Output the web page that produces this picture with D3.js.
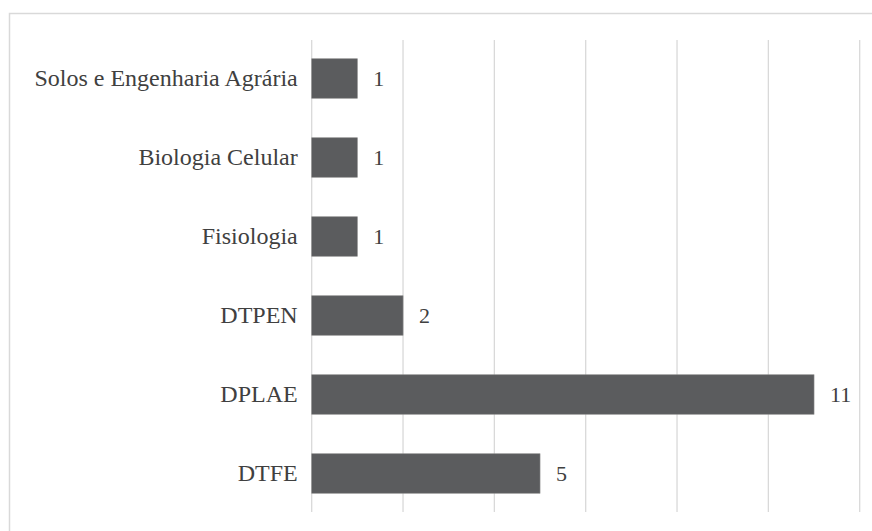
<!DOCTYPE html>
<html>
<head>
<meta charset="utf-8">
<script src="https://cdn.jsdelivr.net/npm/d3@7.9.0/dist/d3.min.js"></script>
<style>
  body { margin: 0; background: #fff; }
  svg { display: block; }
  .lbl { font-family: "Liberation Serif", "Times New Roman", serif; fill: #404040; }
</style>
</head>
<body>
<svg width="872" height="531"></svg>
<script>
const categories = ['Solos e Engenharia Agrária', 'Biologia Celular', 'Fisiologia', 'DTPEN', 'DPLAE', 'DTFE'];
const counts = [1, 1, 1, 2, 11, 5];
const xTicks = [0, 2, 4, 6, 8, 10, 12];

const data = categories.map((c, i) => ({ name: c, value: counts[i] }));

const svg = d3.select('svg');

// chart frame (runs off the right and bottom edges in the original)
svg.append('rect')
  .attr('x', 9.5).attr('y', 13.5)
  .attr('width', 900).attr('height', 600)
  .attr('fill', 'none')
  .attr('stroke', '#d9d9d9')
  .attr('stroke-width', 1.5);

const x = d3.scaleLinear().domain([0, 12]).range([311.7, 859.7]);
const y = d3.scaleBand().domain(categories).range([39, 513])
  .paddingInner(0.5).paddingOuter(0.25);

// vertical gridlines
svg.append('g')
  .selectAll('line')
  .data(xTicks)
  .join('line')
  .attr('x1', d => x(d)).attr('x2', d => x(d))
  .attr('y1', 40).attr('y2', 512)
  .attr('stroke', '#d9d9d9')
  .attr('stroke-width', 1.3);

// bars
svg.append('g')
  .selectAll('rect')
  .data(data)
  .join('rect')
  .attr('x', x(0))
  .attr('y', d => y(d.name))
  .attr('width', d => x(d.value) - x(0))
  .attr('height', y.bandwidth())
  .attr('fill', '#5b5c5e')
  .attr('stroke', '#8a8a8a')
  .attr('stroke-width', 0.6);

// category labels
const yAxis = svg.append('g')
  .attr('transform', `translate(${x(0)},0)`)
  .call(d3.axisLeft(y).tickSize(0).tickPadding(14));
yAxis.select('.domain').remove();
yAxis.selectAll('text')
  .attr('class', 'lbl')
  .attr('font-size', 24)
  .attr('font-family', null);

// value labels
svg.append('g')
  .selectAll('text')
  .data(data)
  .join('text')
  .attr('class', 'lbl')
  .attr('x', d => x(d.value) + 16)
  .attr('y', d => y(d.name) + y.bandwidth() / 2)
  .attr('dy', '0.35em')
  .attr('font-size', 22)
  .text(d => d.value);
</script>
</body>
</html>
